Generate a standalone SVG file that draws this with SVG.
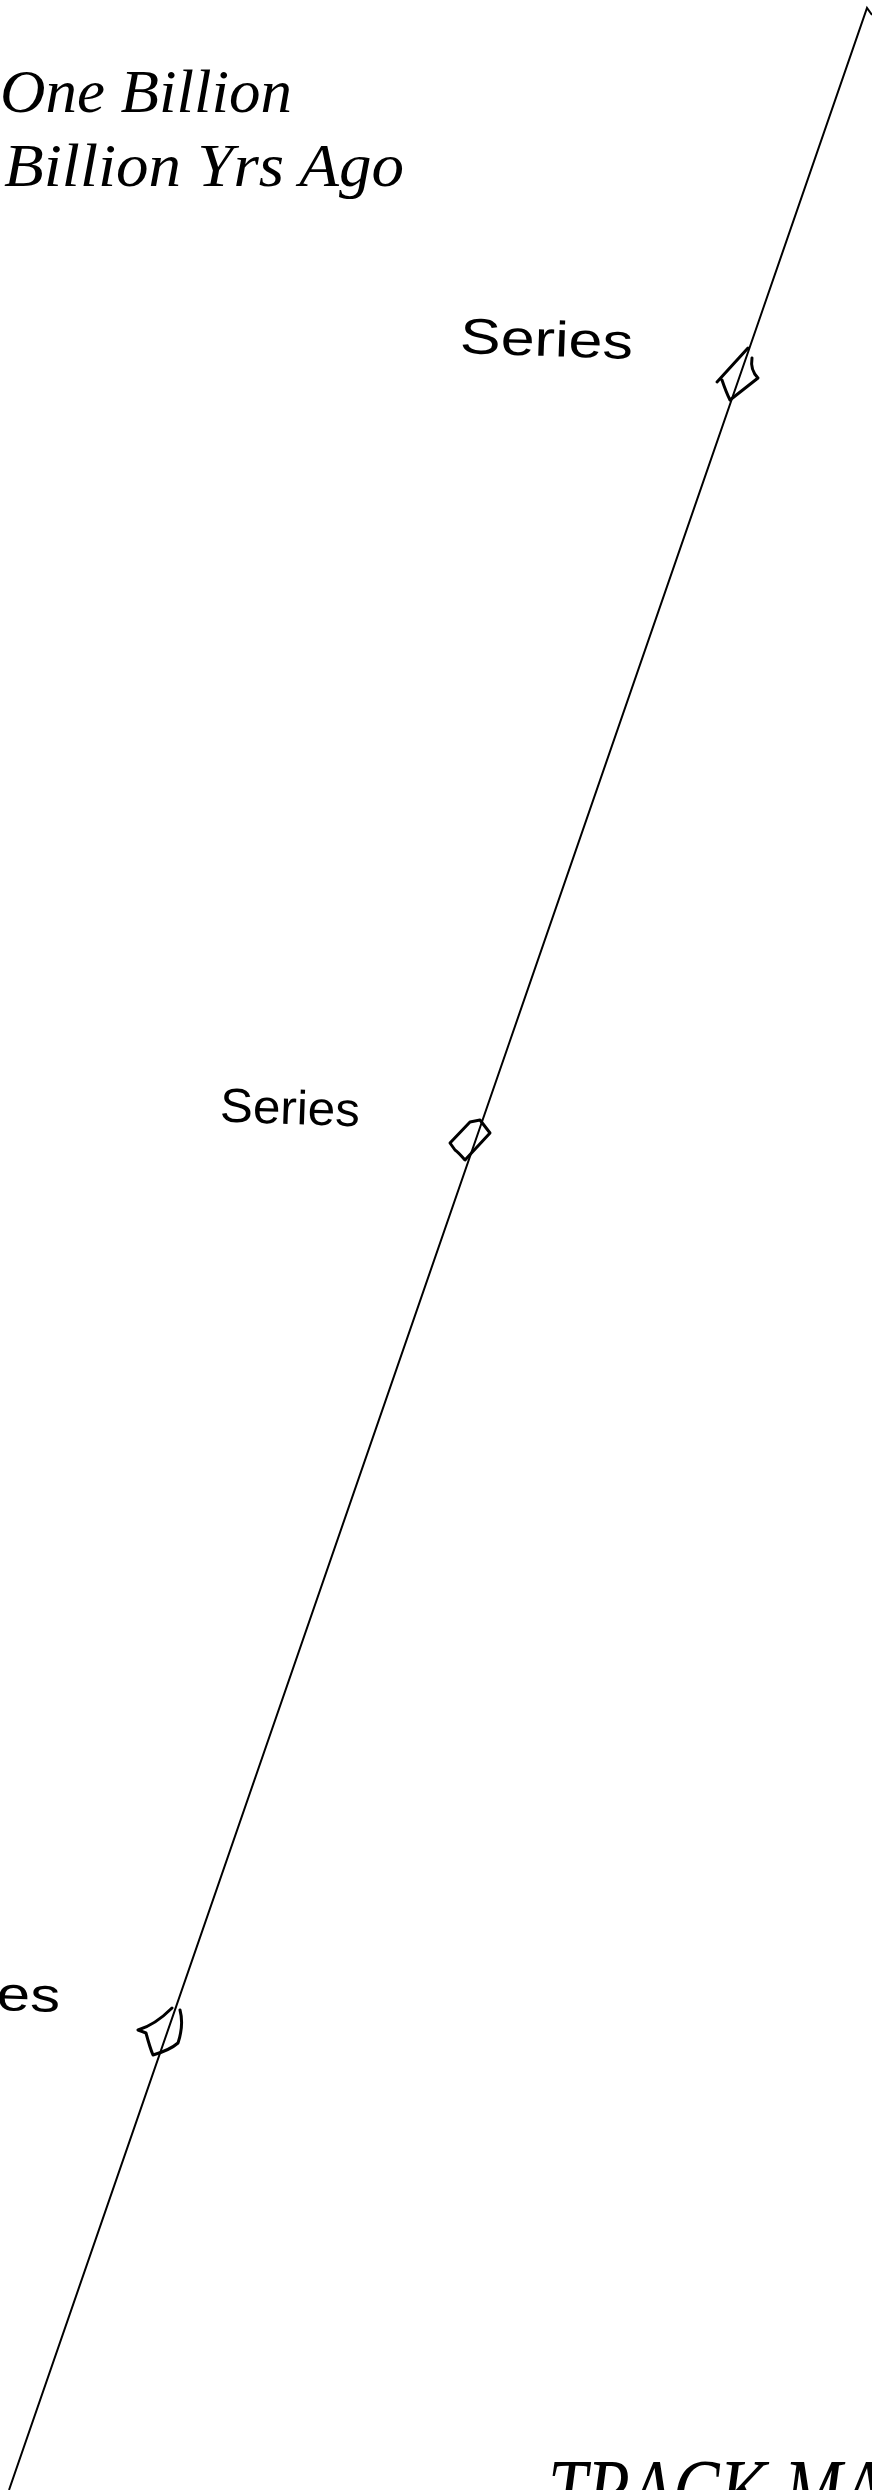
<svg xmlns="http://www.w3.org/2000/svg" width="872" height="2490" viewBox="0 0 872 2490">
<style>
.hand{font-family:"Liberation Serif",serif;font-style:italic;fill:#000}
.lbl{font-family:"Liberation Sans","DejaVu Sans",sans-serif;fill:#000}
.mark{fill:none;stroke:#000;stroke-width:3;stroke-linejoin:round;stroke-linecap:round}
.track{fill:none;stroke:#000;stroke-width:2}
</style>
<rect width="872" height="2490" fill="#fff"/>
<g id="title">
<text class="hand" x="0" y="112" font-size="62" textLength="292" lengthAdjust="spacingAndGlyphs">One Billion</text>
<text class="hand" x="4" y="186" font-size="62" textLength="400" lengthAdjust="spacingAndGlyphs">Billion Yrs Ago</text>
</g>
<g id="connectors">
<path class="track" d="M872,15 L867,8 L9,2490"/>
</g>
<g id="series1">
<path class="mark" d="M748,348 L717,382 M722,380 Q726,392 730,400 L758,378 Q750,370 752,358"/>
<text class="lbl" x="460" y="356" font-size="50" textLength="173" lengthAdjust="spacingAndGlyphs" transform="rotate(2 546 340)">Series</text>
</g>
<g id="series2">
<path class="mark" d="M470,1122 L480,1120 L490,1133 L465,1160 Q458,1152 455,1150 L450,1143 Z"/>
<text class="lbl" x="220" y="1124" font-size="48" textLength="140" lengthAdjust="spacingAndGlyphs" transform="rotate(2 290 1108)">Series</text>
</g>
<g id="series3">
<path class="mark" d="M172,2008 Q155,2025 138,2030 L146,2033 Q150,2048 153,2055 Q170,2050 178,2043 Q184,2025 180,2010"/>
<text class="lbl" x="60" y="2010" font-size="48" text-anchor="end" textLength="170" lengthAdjust="spacingAndGlyphs" transform="rotate(2 0 2000)">Series</text>
</g>
<g id="trackmap">
<text class="hand" x="548" y="2522" font-size="90" textLength="380" lengthAdjust="spacingAndGlyphs">TRACK MAP</text>
</g>
</svg>
